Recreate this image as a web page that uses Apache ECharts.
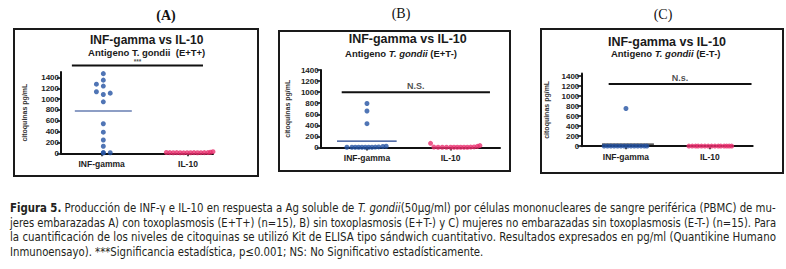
<!DOCTYPE html>
<html>
<head>
<meta charset="utf-8">
<script src="https://cdn.jsdelivr.net/npm/echarts@6/dist/echarts.min.js"></script>
<style>
html, body { margin: 0; padding: 0; background: #fff; }
#chart { width: 786px; height: 269px; }
</style>
</head>
<body>
<div id="chart"></div>
<script>
var categories = ['INF-gamma', 'IL-10'];
var yTicks = [0, 200, 400, 600, 800, 1000, 1200, 1400];

// panel A (E+T+)
var infA = [1470, 1350, 1275, 1240, 1135, 1110, 1085, 950, 545, 390, 245, 130, 10, 10, 10];
var infAOffset = [0.02, 0.02, -0.06, 0.02, -0.06, 0.1, 0.02, 0.02, 0.02, 0.02, 0.02, 0.02, 0.02, 0.1, 0.02];
var il10A = [15, 12, 10, 12, 10, 9, 11, 10, 12, 10, 11, 12, 14, 20, 30];
var il10AOffset = [-0.25, -0.21, -0.17, -0.13, -0.09, -0.05, -0.01, 0.03, 0.07, 0.11, 0.15, 0.19, 0.23, 0.26, 0.29];
var meanA = 780;
var sigA = 1620;

// panel B (E+T-)
var infB = [795, 660, 430, 5, 5, 5, 5, 5, 5, 5, 5, 8, 10, 18, 22];
var infBOffset = [0, 0, 0, -0.24, -0.18, -0.14, -0.1, -0.06, -0.02, 0.02, 0.06, 0.1, 0.14, 0.19, 0.23];
var il10B = [75, 8, 5, 5, 5, 5, 5, 5, 5, 5, 5, 8, 10, 20, 35];
var il10BOffset = [-0.24, -0.2, -0.15, -0.1, -0.05, 0, 0.04, 0.08, 0.12, 0.16, 0.2, 0.24, 0.28, 0.32, 0.35];
var meanB = 115;
var sigB = 1000;

// panel C (E-T-)
var infC = [752, 3, 3, 3, 3, 3, 3, 3, 3, 3, 3, 3, 3, 3, 3];
var infCOffset = [0, -0.26, -0.22, -0.18, -0.14, -0.1, -0.06, -0.02, 0.02, 0.06, 0.1, 0.14, 0.18, 0.22, 0.25];
var il10C = [3, 3, 3, 3, 3, 3, 3, 3, 3, 3, 3, 3, 3, 3, 3];
var il10COffset = [-0.25, -0.21, -0.17, -0.14, -0.1, -0.06, -0.02, 0.02, 0.06, 0.1, 0.13, 0.17, 0.2, 0.23, 0.26];
var meanC = 40;
var sigC = 1240;

var sigLabels = ['***', 'N.S.', 'N.s.'];
var panelLetters = ['(A)', '(B)', '(C)'];
var panelTitle = 'INF-gamma vs IL-10';

var captionLines = [
	[['b', 'Figura 5.'], ['n', ' Producción de INF-γ e IL-10 en respuesta a Ag soluble de '], ['i', 'T. gondii'], ['n', '(50µg/ml) por células mononucleares de sangre periférica (PBMC) de mu-']],
	[['n', 'jeres embarazadas A) con toxoplasmosis (E+T+) (n=15), B) sin toxoplasmosis (E+T-) y C) mujeres no embarazadas sin toxoplasmosis (E-T-) (n=15). Para']],
	[['n', 'la cuantificación de los niveles de citoquinas se utilizó Kit de ELISA tipo sándwich cuantitativo. Resultados expresados en pg/ml (Quantikine Humano']],
	[['n', 'Inmunoensayo). ***Significancia estadística, p≤0.001; NS: No Significativo estadísticamente.']]
];

var blue = '#2452a3';
var pink = '#e8306e';
var sans = '"Liberation Sans", Arial, sans-serif';
var narrow = '"Liberation Sans Narrow", "DejaVu Sans Condensed", sans-serif';

function pairs(offsets, values, center) {
	var out = [];
	for (var i = 0; i < values.length; i++) {
		out.push([center + offsets[i], values[i]]);
	}
	return out;
}

var panels = [
	{ grid: { left: 61, top: 72, width: 152, height: 81.3 }, yMax: 1500, xMin: 0.53, xMax: 2.29, nameGap: 33,
	  inf: pairs(infAOffset, infA, 1), il: pairs(il10AOffset, il10A, 2), mean: meanA, meanSpan: [0.69, 1.35], meanColor: '#1d3f8c',
	  sig: sigA, sigSpan: [0.656, 2.174], labelSize: 6.5, labelDist: 0 },
	{ grid: { left: 320.7, top: 70, width: 179.3, height: 77.5 }, yMax: 1400, xMin: 0.447, xMax: 2.59, nameGap: 30,
	  inf: pairs(infBOffset, infB, 1), il: pairs(il10BOffset, il10B, 2), mean: meanB, meanSpan: [0.642, 1.355], meanColor: '#1d3f8c',
	  sig: sigB, sigSpan: [0.698, 2.47], labelSize: 9, labelDist: 2 },
	{ grid: { left: 581.3, top: 73.5, width: 171.4, height: 72.7 }, yMax: 1450, xMin: 0.468, xMax: 2.51, nameGap: 31,
	  inf: pairs(infCOffset, infC, 1), il: pairs(il10COffset, il10C, 2), mean: meanC, meanSpan: [0.714, 1.333], meanColor: '#222',
	  sig: sigC, sigSpan: [0.794, 2.496], labelSize: 9, labelDist: 2 }
];

var option = {
	backgroundColor: '#fff',
	animation: false,
	grid: [], xAxis: [], yAxis: [], series: [], graphic: []
};

for (var p = 0; p < panels.length; p++) {
	var pn = panels[p];
	option.grid.push(pn.grid);
	option.xAxis.push({
		type: 'value', gridIndex: p, min: pn.xMin, max: pn.xMax,
		splitLine: { show: false },
		axisLine: { show: true, onZero: false, lineStyle: { color: '#111', width: 2 } },
		axisTick: { show: true, length: 3, customValues: [1, 2], lineStyle: { color: '#111', width: 1.5 } },
		axisLabel: {
			customValues: [1, 2], margin: 6, color: '#222', fontFamily: sans, fontWeight: 'bold', fontSize: 8.5,
			formatter: function (v) { return categories[Math.round(v) - 1]; }
		}
	});
	option.yAxis.push({
		type: 'value', gridIndex: p, min: 0, max: pn.yMax,
		name: 'citoquinas pg/mL', nameLocation: 'middle', nameRotate: 90, nameGap: pn.nameGap,
		nameTextStyle: { fontFamily: sans, fontWeight: 'bold', fontSize: 7, color: '#333' },
		splitLine: { show: false },
		axisLine: { show: true, lineStyle: { color: '#111', width: 2 } },
		axisTick: { show: true, length: 4, customValues: yTicks, lineStyle: { color: '#111', width: 1.5 } },
		axisLabel: {
			customValues: yTicks, margin: 2, color: '#222', fontFamily: sans, fontWeight: 'bold', fontSize: 8,
			formatter: function (v) { return String(v); }
		}
	});
	option.series.push({
		type: 'line', xAxisIndex: p, yAxisIndex: p, symbol: 'none', z: 1,
		data: [[pn.meanSpan[0], pn.mean], [pn.meanSpan[1], pn.mean]],
		lineStyle: { color: pn.meanColor, width: 1.2 }
	});
	option.series.push({
		type: 'scatter', xAxisIndex: p, yAxisIndex: p, symbolSize: 5, z: 3,
		data: pn.inf, itemStyle: { color: blue }
	});
	option.series.push({
		type: 'scatter', xAxisIndex: p, yAxisIndex: p, symbolSize: 5, z: 3,
		data: pn.il, itemStyle: { color: pink }
	});
	option.series.push({
		type: 'line', xAxisIndex: p, yAxisIndex: p, symbol: 'none', clip: false, z: 2,
		data: [[pn.sigSpan[0], pn.sig], [pn.sigSpan[1], pn.sig]],
		lineStyle: { color: '#111', width: 2 }
	});
	option.series.push({
		type: 'scatter', xAxisIndex: p, yAxisIndex: p, symbolSize: 0, clip: false, silent: true,
		data: [[(pn.sigSpan[0] + pn.sigSpan[1]) / 2, pn.sig]],
		label: {
			show: true, position: 'top', distance: pn.labelDist, formatter: sigLabels[p],
			fontFamily: sans, fontWeight: 'bold', fontSize: pn.labelSize, color: '#222'
		}
	});
}

// frames, letters and titles
var frames = [[14, 29, 244, 147], [279, 31, 231, 140], [541, 29, 242, 144]];
var letterPos = [[166, 15, 'bold'], [401, 13, 'normal'], [663, 14, 'normal']];
var titlePos = [[146.7, 39.5, 12], [407.7, 39, 12.5], [667, 41.5, 12.5]];
var subPos = [[146.7, 52.5, 9.5], [401, 53.5, 9.5], [665.7, 53.2, 9.5]];
var subRich = [
	'{n|Antigeno T. gondii  (E+T+)}',
	'{n|Antigeno }{i|T. gondii}{n| (E+T-)}',
	'{n|Antigeno }{i|T. gondii}{n| (E-T-)}'
];
for (var k = 0; k < 3; k++) {
	option.graphic.push({
		type: 'rect', shape: { x: frames[k][0], y: frames[k][1], width: frames[k][2], height: frames[k][3] },
		style: { fill: 'none', stroke: '#1a1a1a', lineWidth: 2 }, z: 10
	});
	option.graphic.push({
		type: 'text', x: letterPos[k][0], y: letterPos[k][1],
		style: { text: panelLetters[k], align: 'center', verticalAlign: 'middle', fill: '#111',
			font: letterPos[k][2] + ' 14px "Liberation Serif", "Times New Roman", serif' }
	});
	option.graphic.push({
		type: 'text', x: titlePos[k][0], y: titlePos[k][1],
		style: { text: panelTitle, align: 'center', verticalAlign: 'middle', fill: '#1a1a1a',
			font: 'bold ' + titlePos[k][2] + 'px ' + sans }
	});
	option.graphic.push({
		type: 'text', x: subPos[k][0], y: subPos[k][1],
		style: { text: subRich[k], align: 'center', verticalAlign: 'middle',
			rich: {
				n: { fontFamily: sans, fontWeight: 'bold', fontSize: subPos[k][2], lineHeight: 10, fill: '#1a1a1a' },
				i: { fontFamily: sans, fontWeight: 'bold', fontStyle: 'italic', fontSize: subPos[k][2], lineHeight: 10, fill: '#1a1a1a' }
			} }
	});
}

// caption, stretched to the justified width
var capSize = 12.5;
var capFonts = {
	n: 'normal ' + capSize + 'px ' + narrow,
	b: 'bold ' + capSize + 'px ' + narrow,
	i: 'italic ' + capSize + 'px ' + narrow
};
var ctx = document.createElement('canvas').getContext('2d');
function lineWidth(segs) {
	var w = 0;
	for (var i = 0; i < segs.length; i++) {
		ctx.font = capFonts[segs[i][0]];
		w += ctx.measureText(segs[i][1]).width;
	}
	return w;
}
var capY = [208, 222.5, 237, 251.5];
var scales = [];
for (var l = 0; l < 3; l++) {
	scales.push(766 / lineWidth(captionLines[l]));
}
scales.push((scales[0] + scales[1] + scales[2]) / 3);
for (var l = 0; l < captionLines.length; l++) {
	var txt = '';
	for (var s = 0; s < captionLines[l].length; s++) {
		txt += '{' + captionLines[l][s][0] + '|' + captionLines[l][s][1] + '}';
	}
	option.graphic.push({
		type: 'text', x: 10, y: capY[l], scaleX: scales[l],
		style: { text: txt, verticalAlign: 'middle',
			rich: {
				n: { fontFamily: narrow, fontSize: capSize, lineHeight: 13, fill: '#231f20' },
				b: { fontFamily: narrow, fontSize: capSize, lineHeight: 13, fontWeight: 'bold', fill: '#231f20' },
				i: { fontFamily: narrow, fontSize: capSize, lineHeight: 13, fontStyle: 'italic', fill: '#231f20' }
			} }
	});
}

var myChart = echarts.init(document.getElementById('chart'), null, { renderer: 'svg' });
myChart.setOption(option);
</script>
</body>
</html>
